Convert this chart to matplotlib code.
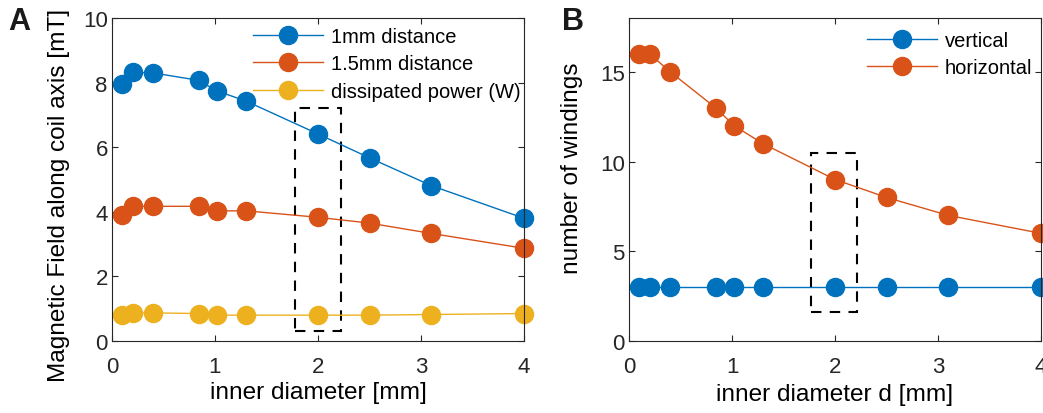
import matplotlib.pyplot as plt
from matplotlib.patches import Rectangle

plt.rcParams['font.family'] = ['Liberation Sans', 'DejaVu Sans']

# inner diameter [mm]
diam = [0.1, 0.2, 0.4, 0.84, 1.02, 1.3, 2.0, 2.5, 3.1, 4.0]

# panel A
field_1mm = [7.96, 8.32, 8.3, 8.07, 7.74, 7.43, 6.41, 5.67, 4.81, 3.8]
field_15mm = [3.9, 4.17, 4.17, 4.17, 4.03, 4.03, 3.83, 3.65, 3.33, 2.87]
power = [0.8, 0.87, 0.87, 0.85, 0.8, 0.8, 0.8, 0.8, 0.82, 0.85]

# panel B
vertical = [3, 3, 3, 3, 3, 3, 3, 3, 3, 3]
horizontal = [16, 16, 15, 13, 12, 11, 9, 8, 7, 6]

blue = '#0072BD'
red = '#D95319'
yellow = '#EDB120'

W, H = 1043, 414
fig = plt.figure(figsize=(W / 100, H / 100), dpi=100)

axA = fig.add_axes([112 / W, 1 - 342 / H, 412 / W, 323 / H])
axB = fig.add_axes([629 / W, 1 - 342 / H, 412 / W, 323 / H])

mk = dict(marker='o', markersize=13, lw=1, clip_on=False)
leg = dict(frameon=False, fontsize=14.5, handlelength=3.5, borderpad=0,
           borderaxespad=0, labelspacing=0.42, handletextpad=0.35,
           loc='upper left')

axA.plot(diam, field_1mm, color=blue, label='1mm distance', **mk)
axA.plot(diam, field_15mm, color=red, label='1.5mm distance', **mk)
axA.plot(diam, power, color=yellow, label='dissipated power (W)', **mk)
axA.set_xlim(0, 4)
axA.set_ylim(0, 10)
axA.set_xticks([0, 1, 2, 3, 4])
axA.set_yticks([0, 2, 4, 6, 8, 10])
axA.set_xlabel('inner diameter [mm]', fontsize=17.6)
axA.set_ylabel('Magnetic Field along coil axis [mT]', fontsize=17.6)
axA.xaxis.set_label_coords(0.5, -0.123)
axA.yaxis.set_label_coords(-0.102, 0.455)
axA.add_patch(Rectangle((1.78, 0.31), 0.44, 6.89, fill=False, ls=(0, (5, 4)),
                        lw=1.5, ec='black', zorder=1))
axA.legend(bbox_to_anchor=(253 / W, 1 - 28 / H),
           bbox_transform=fig.transFigure, **leg)

axB.plot(diam, vertical, color=blue, label='vertical', **mk)
axB.plot(diam, horizontal, color=red, label='horizontal', **mk)
axB.set_xlim(0, 4)
axB.set_ylim(0, 18)
axB.set_xticks([0, 1, 2, 3, 4])
axB.set_yticks([0, 5, 10, 15])
axB.set_xlabel('inner diameter d [mm]', fontsize=17.6)
axB.set_ylabel('number of windings', fontsize=17.6)
axB.xaxis.set_label_coords(0.5, -0.130)
axB.yaxis.set_label_coords(-0.112, 0.539)
axB.add_patch(Rectangle((1.77, 1.59), 0.44, 8.91, fill=False, ls=(0, (5, 4)),
                        lw=1.5, ec='black', zorder=1))
axB.legend(bbox_to_anchor=(867 / W, 1 - 32 / H),
           bbox_transform=fig.transFigure, **leg)

for ax in (axA, axB):
    ax.tick_params(direction='in', top=True, right=True, labelsize=16,
                   length=4, color='#262626', labelcolor='#262626')
    ax.tick_params(axis='x', pad=11)
    ax.tick_params(axis='y', pad=3)
    for s in ax.spines.values():
        s.set_color('#262626')
        s.set_linewidth(0.8)

fig.text(8 / W, 1 - 22 / H, 'A', fontsize=22, fontweight='bold', va='center',
         color='#1a1a1a')
fig.text(562 / W, 1 - 22 / H, 'B', fontsize=22, fontweight='bold', va='center',
         color='#1a1a1a')

fig.savefig('out.png', dpi=100)
